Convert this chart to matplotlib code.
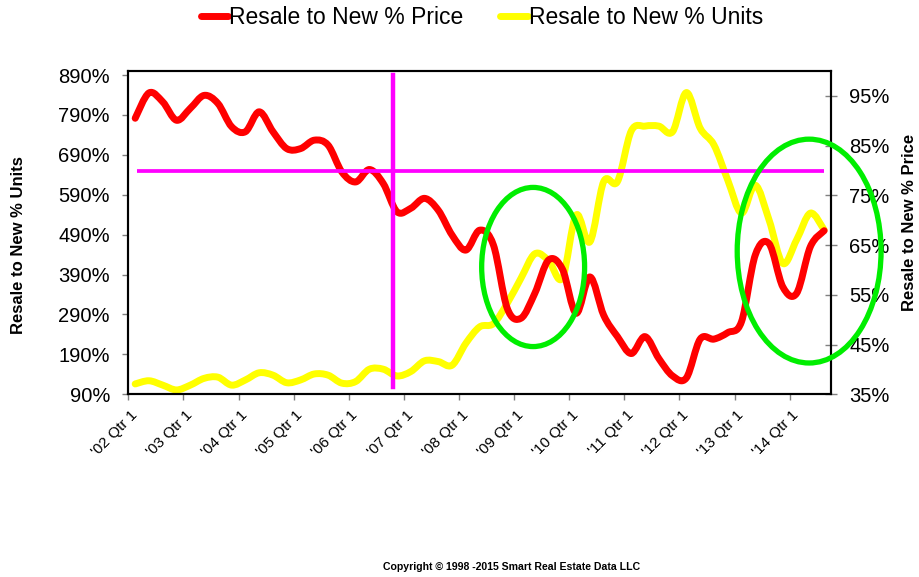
import numpy as np
import matplotlib
matplotlib.use("Agg")
import matplotlib.pyplot as plt
from matplotlib.path import Path
from matplotlib.patches import PathPatch, Ellipse
from matplotlib.lines import Line2D

plt.rcParams['font.family'] = ['Liberation Sans', 'DejaVu Sans']

# quarterly series, '02 Qtr 1 .. '14 Qtr 3
year_labels = ["'02 Qtr 1", "'03 Qtr 1", "'04 Qtr 1", "'05 Qtr 1", "'06 Qtr 1",
               "'07 Qtr 1", "'08 Qtr 1", "'09 Qtr 1", "'10 Qtr 1", "'11 Qtr 1",
               "'12 Qtr 1", "'13 Qtr 1", "'14 Qtr 1"]
price_pct = [90.5, 95.6, 93.8, 90.1, 92.5, 95.1, 93.5, 88.8, 87.8, 91.8,
             87.8, 84.4, 84.4, 86.1, 85.1, 79.7, 77.7, 80.2, 77.4, 71.7,
             72.4, 74.4, 72.0, 67.0, 64.0, 68.0, 65.0, 52.3, 50.3, 55.3,
             62.0, 60.2, 51.3, 58.6, 50.9, 46.6, 43.2, 46.6, 42.2, 38.7,
             38.3, 46.1, 46.1, 47.4, 49.6, 63.0, 65.3, 56.6, 55.3, 64.7,
             67.9]
units_pct = [116, 124, 113, 101, 113, 130, 133, 113, 126, 144,
             138, 119, 126, 141, 138, 118, 122, 153, 153, 136,
             147, 174, 172, 163, 218, 259, 267, 318, 381, 442,
             425, 381, 539, 472, 623, 623, 750, 762, 762, 748,
             846, 757, 715, 627, 544, 614, 527, 418, 477, 544,
             502]
legend_labels = ["Resale to New % Price", "Resale to New % Units"]


def smooth_path(xs, ys):
    # excel style smoothed line: bezier segments through the points
    pts = np.column_stack([xs, ys]).astype(float)
    ext = np.vstack([pts[0], pts, pts[-1]])
    verts = [pts[0]]
    codes = [Path.MOVETO]
    for i in range(len(pts) - 1):
        p0, p1, p2, p3 = ext[i], ext[i + 1], ext[i + 2], ext[i + 3]
        verts += [p1 + (p2 - p0) / 6, p2 - (p3 - p1) / 6, p2]
        codes += [Path.CURVE4] * 3
    return Path(verts, codes)


fig = plt.figure(figsize=(9.19, 5.77), dpi=100)
ax = fig.add_axes([0.1396, 0.3166, 0.7647, 0.5603])
ax2 = ax.twinx()

x = np.arange(len(price_pct))
ax.add_patch(PathPatch(smooth_path(x, units_pct), fill=False, edgecolor='#ffff00',
                       lw=5, capstyle='round', joinstyle='round', zorder=2))
ax2.add_patch(PathPatch(smooth_path(x, price_pct), fill=False, edgecolor='#ff0000',
                        lw=5, capstyle='round', joinstyle='round', zorder=2))

ax.set_xlim(-0.5, 50.5)
ax.set_ylim(90, 900)
ax2.set_ylim(35, 100)

ax.set_yticks(np.arange(90, 891, 100))
ax.set_yticklabels([f"{v}%" for v in range(90, 891, 100)])
ax2.set_yticks(np.arange(35, 96, 10))
ax2.set_yticklabels([f"{v}%" for v in range(35, 96, 10)])

ax.set_xticks(np.arange(-0.5, 48, 4))
ax.set_xticklabels([])
ax.set_xticks(np.arange(0, 49, 4), minor=True)
ax.set_xticklabels(year_labels, minor=True)
ax.tick_params(axis='x', which='major', length=4, color='#808080', width=1)
ax.tick_params(axis='x', which='minor', length=0, pad=13.5, labelsize=11)
for lab in ax.get_xticklabels(minor=True):
    lab.set_rotation(45)
    lab.set_ha('right')
    lab.set_va('center')
    lab.set_rotation_mode('anchor')

ax.tick_params(axis='y', length=4, color='#808080', width=1, pad=9.2, labelsize=14.5)
ax2.tick_params(axis='y', direction='inout', length=9, color='#808080', width=1,
                pad=8.5, labelsize=14.5)

for a in (ax, ax2):
    for s in a.spines.values():
        s.set_linewidth(1.5)
        s.set_color('black')

# reference lines and highlight circles
ax2.axvline(18.72, ymin=0.022, ymax=0.988, color='#ff00ff', lw=3.2, zorder=4)
ax2.hlines(80, 0.13, 49.97, color='#ff00ff', lw=2.7, zorder=4)
ax2.add_patch(Ellipse((28.88, 60.6), 7.47, 32.0, fill=False,
                      edgecolor='#00ee00', lw=3.8, zorder=5))
ax2.add_patch(Ellipse((48.91, 63.8), 10.44, 45.0, fill=False,
                      edgecolor='#00ee00', lw=3.8, zorder=5, clip_on=False))

fig.text(19 / 919, 1 - 245 / 577, "Resale to New % Units", rotation=90,
         ha='center', va='center', fontsize=12, fontweight='bold')
fig.text(910 / 919, 1 - 222.5 / 577, "Resale to New % Price", rotation=90,
         ha='center', va='center', fontsize=12, fontweight='bold')

handles = [Line2D([], [], color='#ff0000', lw=5, solid_capstyle='round'),
           Line2D([], [], color='#ffff00', lw=5, solid_capstyle='round')]
fig.legend(handles, legend_labels, loc='center', bbox_to_anchor=(481.8 / 919, 1 - 18 / 577),
           ncol=2, frameon=False, fontsize=16.5, handlelength=1.2,
           handletextpad=0.05, columnspacing=1.6)

fig.text(511.7 / 919, 1 - 566.7 / 577, "Copyright © 1998 -2015 Smart Real Estate Data LLC",
         ha='center', va='center', fontsize=7.6, fontweight='bold')

fig.savefig('out.png', dpi=100)
